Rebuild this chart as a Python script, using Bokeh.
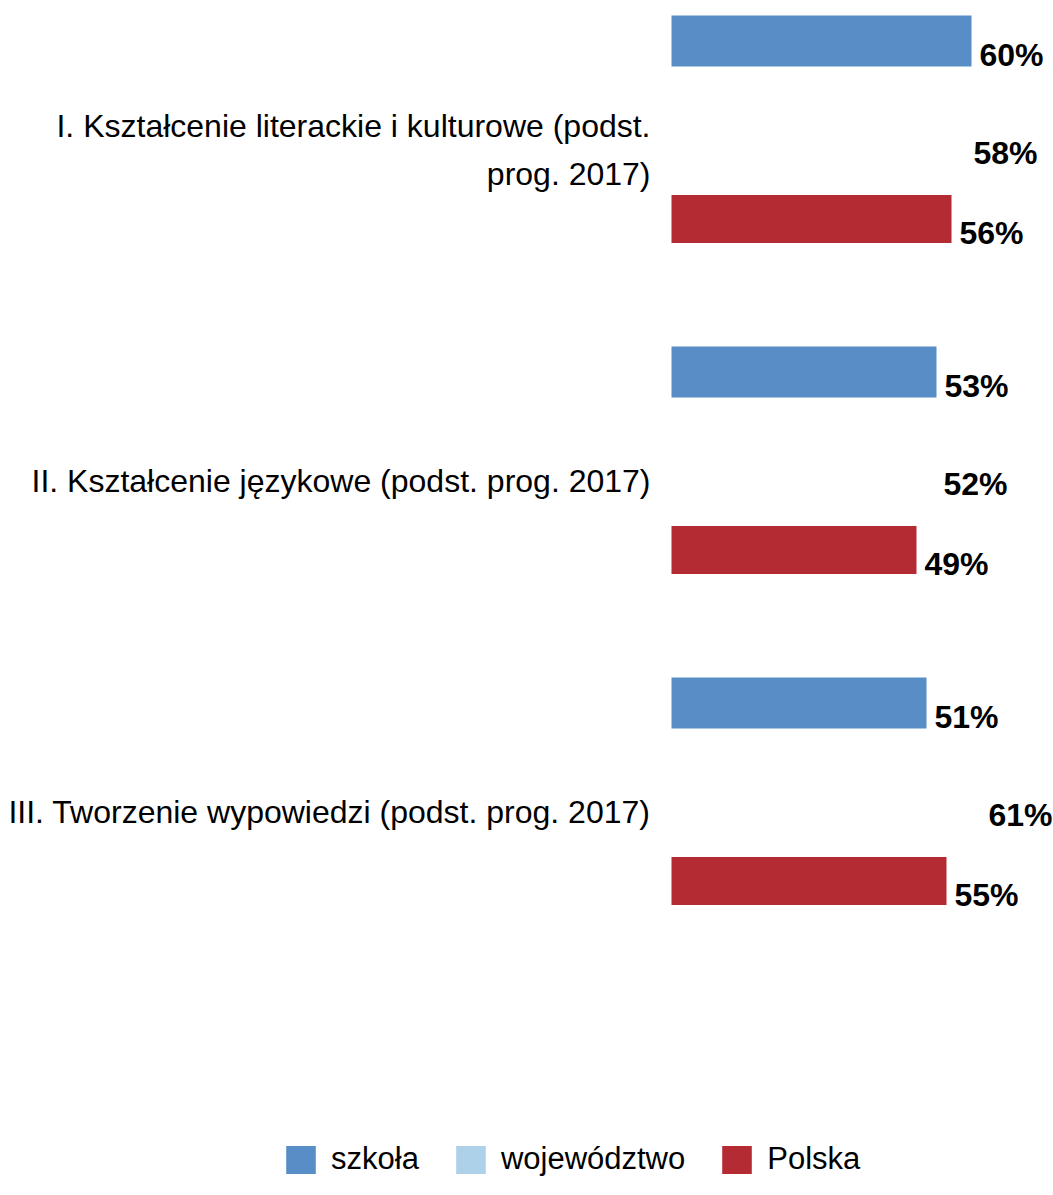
from bokeh.plotting import figure
from bokeh.models import Range1d, ColumnDataSource, Legend, LegendItem
from bokeh.core.properties import value
from bokeh.embed import file_html
from bokeh.resources import INLINE

# ---- data ----
categories = [
    "I. Kształcenie literackie i kulturowe (podst.\nprog. 2017)",
    "II. Kształcenie językowe (podst. prog. 2017)",
    "III. Tworzenie wypowiedzi (podst. prog. 2017)",
]
series_names = ["szkoła", "województwo", "Polska"]
szkola = [60, 53, 51]
wojewodztwo = [58, 52, 61]
polska = [56, 49, 55]

# ---- styling / layout ----
W, H = 1053, 1195
BASE_PX = 671          # pixel position of the 0 value
PX_PER_UNIT = 5.0
FIRST = 40.5
PITCH = 331
SERIES_OFFSET = [0, 98, 178]
BAR_HEIGHT = [51, 50, 48]
LABEL_OFFSET = 109
COLORS = ["#598DC6", "#ADD1E8", "#B52B34"]
FONT = "Liberation Sans"

p = figure(width=W, height=H,
           x_range=Range1d(-BASE_PX / PX_PER_UNIT, (W - BASE_PX) / PX_PER_UNIT),
           y_range=Range1d(H, 0),
           output_backend="svg", toolbar_location=None,
           x_axis_location=None, y_axis_location=None, min_border=0)
p.grid.visible = False
p.outline_line_color = None
p.background_fill_color = "white"
p.border_fill_color = "white"

all_vals = [szkola, wojewodztwo, polska]
renderers = []
for s, vals in enumerate(all_vals):
    ys = [FIRST + g * PITCH + SERIES_OFFSET[s] for g in range(len(categories))]
    src = ColumnDataSource(dict(y=ys, v=vals, lab=[f"{v}%" for v in vals]))
    r = p.hbar(y="y", left=0, right="v", height=BAR_HEIGHT[s], source=src,
               fill_color=COLORS[s], line_color=None,
               fill_alpha=(0 if s == 1 else 1))
    renderers.append(r)
    p.text(x="v", y="y", text="lab", source=src,
           x_offset=(12 if s == 1 else 8), y_offset=14,
           text_align="left", text_baseline="middle",
           text_font=value(FONT), text_font_style="bold",
           text_font_size="32px", text_color="black")

# category labels
cat_src = ColumnDataSource(dict(
    x=[0] * len(categories),
    y=[FIRST + g * PITCH + LABEL_OFFSET for g in range(len(categories))],
    t=categories))
p.text(x="x", y="y", text="t", source=cat_src, x_offset=-21,
       text_align="right", text_baseline="middle",
       text_font=value(FONT), text_font_size="32px", text_color="black",
       text_line_height=1.32)

# legend swatch for województwo (its bars are not filled in the chart):
# a zero-width bar that only serves the legend
legend_woj = p.hbar(y=[FIRST + SERIES_OFFSET[1]], left=0, right=[0], height=28,
                    fill_color=COLORS[1], line_color=None)
legend = Legend(items=[
    LegendItem(label=series_names[0], renderers=[renderers[0]]),
    LegendItem(label=series_names[1], renderers=[legend_woj]),
    LegendItem(label=series_names[2], renderers=[renderers[2]]),
], orientation="horizontal", location=(282, 18),
    glyph_width=37, glyph_height=35, label_standoff=12, spacing=33,
    padding=0, margin=0, border_line_color=None, background_fill_alpha=0,
    label_text_font=FONT, label_text_font_size="31px",
    label_text_color="black", label_height=35)
p.add_layout(legend)

open("out.html", "w").write(file_html(p, INLINE))
